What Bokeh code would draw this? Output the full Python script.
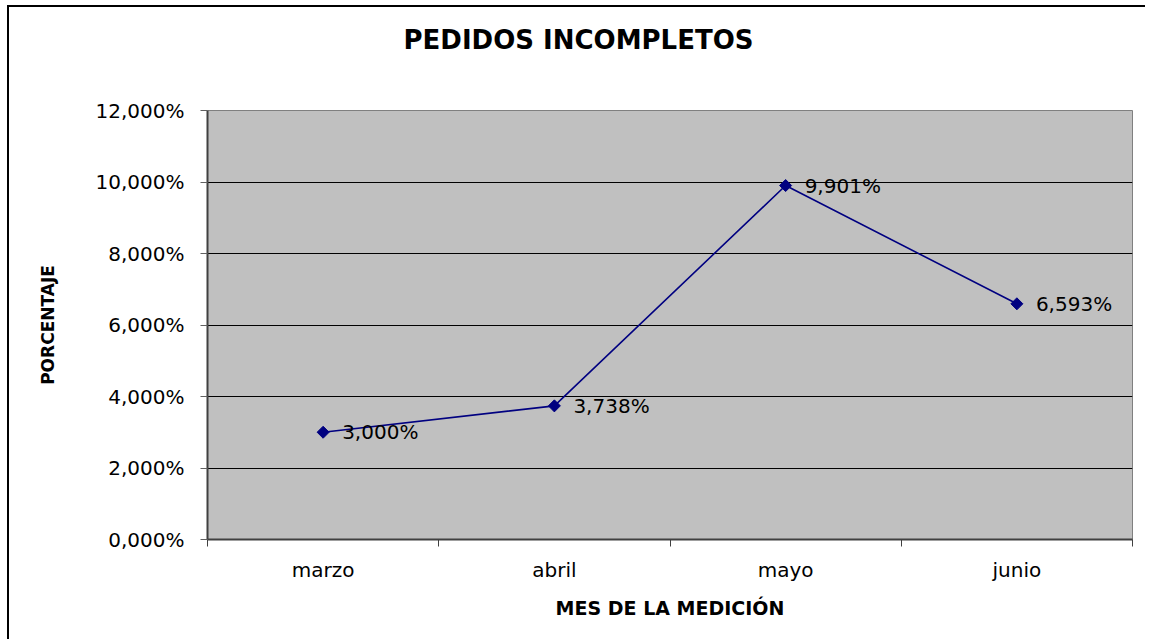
import math
from bokeh.plotting import figure
from bokeh.models import Range1d, FixedTicker
from bokeh.embed import file_html
from bokeh.resources import INLINE

# ---- data ----
months = ["marzo", "abril", "mayo", "junio"]
values = [3.000, 3.738, 9.901, 6.593]          # percent
y_ticks = [0, 2, 4, 6, 8, 10, 12]
title_text = "PEDIDOS INCOMPLETOS"
x_title = "MES DE LA MEDICIÓN"
y_title = "PORCENTAJE"


def pct(v):
    return f"{v:.3f}".replace(".", ",") + "%"


FONT = "DejaVu Sans"
W, H = 1138, 634

p = figure(width=W, height=H, output_backend="svg", toolbar_location=None,
           x_range=Range1d(0, len(months)), y_range=Range1d(y_ticks[0], y_ticks[-1]),
           min_border_left=198, min_border_right=15, min_border_top=103, min_border_bottom=102)
p.styles = {"border-left": "2px solid black", "border-top": "2px solid black",
            "margin-left": "7px", "margin-top": "5px"}
p.background_fill_color = "#C0C0C0"
p.border_fill_color = "white"
p.outline_line_color = "#808080"
p.outline_line_width = 1

# title (second blank line lifts it away from the plot area)
p.title.text = title_text + "\n "
p.title.text_font = FONT
p.title.text_font_style = "bold"
p.title.text_font_size = "26px"
p.title.text_line_height = 1.5
p.title.text_color = "black"
p.title.align = "left"
p.title.offset = 196
p.title.standoff = 22

xs = [i + 0.5 for i in range(len(months))]

# axes
xa = p.xaxis[0]
xa.ticker = FixedTicker(ticks=xs, minor_ticks=list(range(len(months) + 1)))
xa.major_label_overrides = {x: m for x, m in zip(xs, months)}
xa.major_tick_line_color = None
xa.major_tick_out = 0
xa.major_tick_in = 0
xa.minor_tick_out = 7
xa.minor_tick_in = 0
xa.minor_tick_line_color = "#404040"
xa.axis_line_color = "#404040"
xa.axis_line_width = 2
xa.major_label_text_font = FONT
xa.major_label_text_font_size = "20px"
xa.major_label_text_color = "black"
xa.major_label_standoff = 11
xa.axis_label = x_title
xa.axis_label_text_font = FONT
xa.axis_label_text_font_style = "bold"
xa.axis_label_text_font_size = "19px"
xa.axis_label_text_color = "black"
xa.axis_label_standoff = 12

ya = p.yaxis[0]
ya.ticker = FixedTicker(ticks=y_ticks, minor_ticks=[])
ya.major_label_overrides = {t: pct(t) for t in y_ticks}
ya.major_tick_out = 7
ya.major_tick_in = 0
ya.major_tick_line_color = "#606060"
ya.minor_tick_line_color = None
ya.axis_line_color = "#404040"
ya.axis_line_width = 2
ya.major_label_text_font = FONT
ya.major_label_text_font_size = "20px"
ya.major_label_text_color = "black"
ya.major_label_standoff = 16
ya.axis_label = y_title
ya.axis_label_text_font = FONT
ya.axis_label_text_font_style = "bold"
ya.axis_label_text_font_size = "17px"
ya.axis_label_text_color = "black"
ya.axis_label_standoff = 35

p.xgrid.grid_line_color = None
p.ygrid.ticker = FixedTicker(ticks=y_ticks[1:-1])
p.ygrid.grid_line_color = "black"
p.ygrid.grid_line_width = 1

# series
p.line(xs, values, line_color="#000080", line_width=1.6)
p.scatter(xs, values, marker="square", angle=math.pi / 4, size=8.5,
          fill_color="#000080", line_color="#000080")
p.text(xs, values, text=[pct(v) for v in values], x_offset=19, text_baseline="middle",
       text_align="left", text_font_size="20px", text_color="black",
       text_font={"value": FONT})

open("out.html", "w").write(file_html(p, INLINE))
